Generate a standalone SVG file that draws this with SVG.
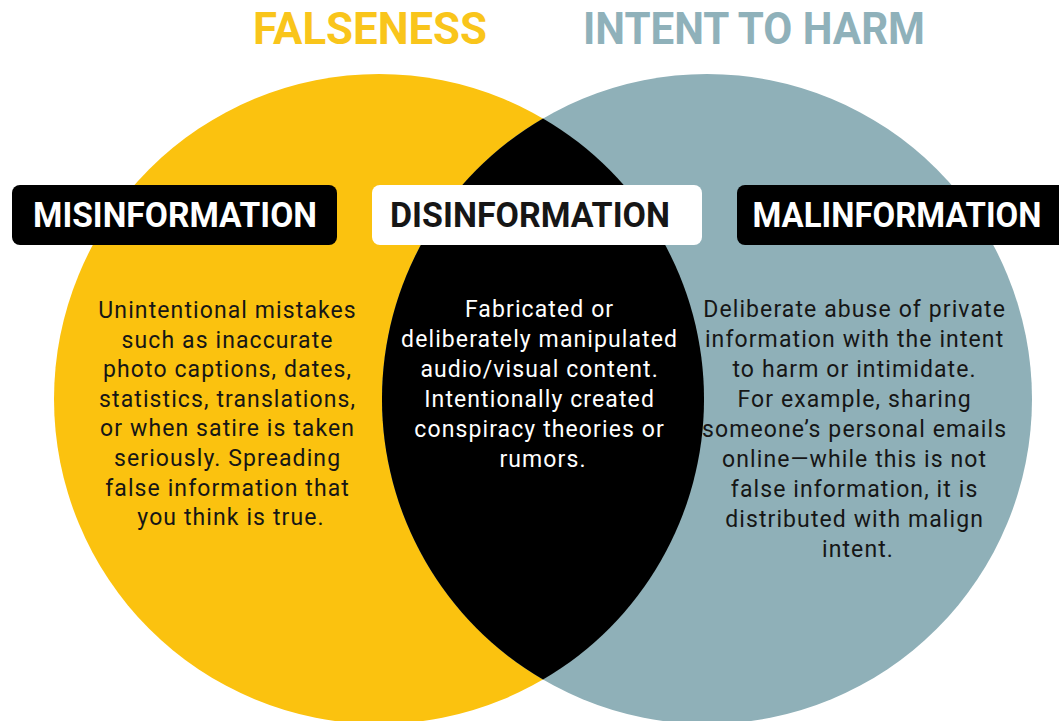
<svg xmlns="http://www.w3.org/2000/svg" width="1059" height="721" viewBox="0 0 1059 721">
<style>
.title{font-family:Roboto,"Liberation Sans",sans-serif;font-weight:bold;font-size:44px;text-anchor:middle}
.lbl{font-family:Roboto,"Liberation Sans",sans-serif;font-weight:bold;font-size:35px;text-anchor:middle}
.body{font-family:Roboto,"Liberation Sans",sans-serif;font-weight:normal;font-size:23px;letter-spacing:1.1px;text-anchor:middle}
.dark{fill:#161616}
.light{fill:#ffffff}
</style>
<rect width="1059" height="721" fill="#ffffff"/>
<g id="circles">
<circle cx="379" cy="399" r="325" fill="#FBC20F"/>
<circle cx="707" cy="399" r="325" fill="#8FB0B8"/>
<path d="M543,118.4 A325,325 0 0 1 543,679.6 A325,325 0 0 1 543,118.4 Z" fill="#000000"/>
</g>
<g id="titles">
<text class="title" x="370" y="44" fill="#F9C51B" textLength="234" lengthAdjust="spacingAndGlyphs">FALSENESS</text>
<text class="title" x="754" y="44" fill="#8FB1BA" textLength="342" lengthAdjust="spacingAndGlyphs">INTENT TO HARM</text>
</g>
<g id="misinformation">
<rect x="12" y="185" width="325" height="60" rx="8" fill="#000000"/>
<text class="lbl light" x="175" y="227" textLength="284" lengthAdjust="spacingAndGlyphs">MISINFORMATION</text>
<text class="body dark">
<tspan x="231" y="318">Unintentional mistakes</tspan>
<tspan x="231" y="347.6">such as inaccurate</tspan>
<tspan x="231" y="377.2">photo captions, dates,</tspan>
<tspan x="231" y="406.8">statistics, translations,</tspan>
<tspan x="231" y="436.4">or when satire is taken</tspan>
<tspan x="231" y="466">seriously. Spreading</tspan>
<tspan x="231" y="495.6">false information that</tspan>
<tspan x="231" y="525.2">you think is true.</tspan>
</text>
</g>
<g id="disinformation">
<rect x="372" y="185" width="330" height="60" rx="8" fill="#ffffff"/>
<text class="lbl dark" x="530" y="227" textLength="280" lengthAdjust="spacingAndGlyphs">DISINFORMATION</text>
<text class="body light">
<tspan x="543" y="317">Fabricated or</tspan>
<tspan x="543" y="347">deliberately manipulated</tspan>
<tspan x="543" y="377">audio/visual content.</tspan>
<tspan x="543" y="407">Intentionally created</tspan>
<tspan x="543" y="437">conspiracy theories or</tspan>
<tspan x="543" y="467">rumors.</tspan>
</text>
</g>
<g id="malinformation">
<rect x="737" y="185" width="340" height="60" rx="8" fill="#000000"/>
<text class="lbl light" x="897" y="227" textLength="289" lengthAdjust="spacingAndGlyphs">MALINFORMATION</text>
<text class="body dark">
<tspan x="858" y="317">Deliberate abuse of private</tspan>
<tspan x="858" y="347">information with the intent</tspan>
<tspan x="858" y="377">to harm or intimidate.</tspan>
<tspan x="858" y="407">For example, sharing</tspan>
<tspan x="858" y="437">someone’s personal emails</tspan>
<tspan x="858" y="467">online—while this is not</tspan>
<tspan x="858" y="497">false information, it is</tspan>
<tspan x="858" y="527">distributed with malign</tspan>
<tspan x="858" y="557">intent.</tspan>
</text>
</g>
</svg>
